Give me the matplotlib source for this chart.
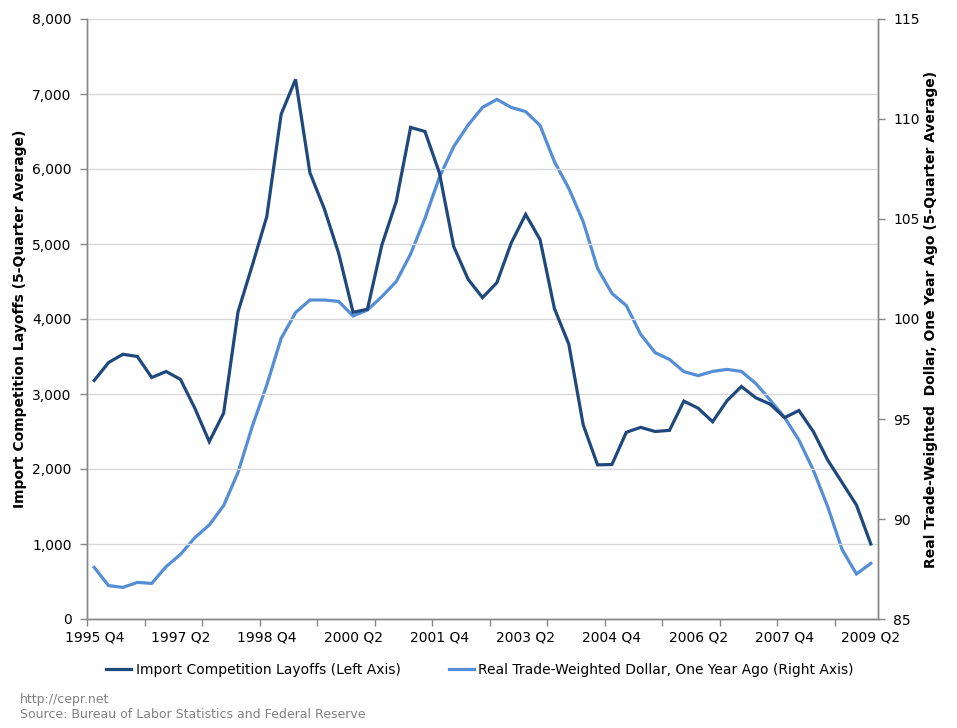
"""Import competition layoffs vs real trade-weighted dollar, 1995 Q4 - 2009 Q2
"""
import numpy as np
import matplotlib
matplotlib.use("Agg")
import matplotlib.pyplot as plt
from matplotlib.ticker import FuncFormatter, FixedLocator

# quarters 1995 Q4 .. 2009 Q2
quarters = []
for year in range(1995, 2010):
    for q in range(1, 5):
        if (year, q) >= (1995, 4) and (year, q) <= (2009, 2):
            quarters.append(f"{year} Q{q}")

layoffs = [3180, 3420, 3530, 3500, 3220, 3300, 3195, 2810, 2365, 2745,
           4095, 4720, 5365, 6730, 7195, 5950, 5470, 4875, 4090, 4130,
           4985, 5565, 6555, 6500, 5950, 4965, 4530, 4285, 4485, 5015,
           5395, 5060, 4140, 3665, 2590, 2055, 2060, 2490, 2555, 2500,
           2515, 2905, 2810, 2630, 2910, 3100, 2950, 2865, 2685, 2780,
           2500, 2120, 1820, 1520, 1000]

dollar = [87.58, 86.67, 86.58, 86.83, 86.78, 87.62, 88.23, 89.07, 89.70, 90.67,
          92.33, 94.65, 96.70, 99.03, 100.32, 100.95, 100.95, 100.88, 100.15, 100.45,
          101.12, 101.87, 103.25, 105.03, 107.08, 108.62, 109.70, 110.58, 110.98, 110.58,
          110.37, 109.68, 107.87, 106.53, 104.87, 102.53, 101.28, 100.67, 99.23, 98.32,
          97.98, 97.37, 97.17, 97.38, 97.48, 97.38, 96.78, 95.95, 95.08, 93.95,
          92.45, 90.62, 88.48, 87.25, 87.78]

label_left = "Import Competition Layoffs (Left Axis)"
label_right = "Real Trade-Weighted Dollar, One Year Ago (Right Axis)"

DARK = "#1F497D"
LIGHT = "#558ED5"
AXIS_GRAY = "#868686"
FS = 10


def main() -> None:
    plt.rcParams["font.family"] = ["DejaVu Sans"]
    fig = plt.figure(figsize=(9.57, 7.28), dpi=100)
    ax = fig.add_axes([87 / 957, 109 / 728, 791 / 957, 600 / 728])
    ax2 = ax.twinx()

    x = np.arange(len(quarters))
    line1, = ax.plot(x, layoffs, color=DARK, lw=2.3, solid_joinstyle="miter",
                     label=label_left, zorder=3)
    line2, = ax2.plot(x, dollar, color=LIGHT, lw=2.3, solid_joinstyle="miter",
                      label=label_right, zorder=2)
    ax.set_zorder(ax2.get_zorder() + 1)
    ax.patch.set_visible(False)

    ax.set_xlim(-0.5, len(quarters) - 0.5)
    ax.set_ylim(0, 8000)
    ax2.set_ylim(85, 115)

    ax.set_yticks(np.arange(0, 8001, 1000))
    ax.yaxis.set_major_formatter(FuncFormatter(lambda v, _: f"{int(v):,}"))
    ax2.set_yticks(np.arange(85, 116, 5))
    ax.grid(axis="y", color="#D9D9D9", lw=1.0)
    ax.set_axisbelow(True)

    # category ticks between quarters, labels every 6 quarters
    ax.xaxis.set_major_locator(FixedLocator(np.arange(-0.5, len(quarters), 4)))
    ax.xaxis.set_major_formatter(FuncFormatter(lambda v, _: ""))
    ax.xaxis.set_minor_locator(FixedLocator(x[::6]))
    ax.set_xticklabels([quarters[i] for i in x[::6]], minor=True)
    ax.tick_params(axis="x", which="minor", length=0, pad=8, labelsize=FS)
    ax.tick_params(axis="x", which="major", length=5, width=1, color=AXIS_GRAY)
    ax.tick_params(axis="y", length=5, width=1, color=AXIS_GRAY, labelsize=FS, pad=6)
    ax2.tick_params(axis="y", length=5, width=1, color=AXIS_GRAY, labelsize=FS, pad=6)

    for a in (ax, ax2):
        a.spines["top"].set_visible(False)
        for side in ("left", "right", "bottom"):
            a.spines[side].set_color(AXIS_GRAY)
            a.spines[side].set_linewidth(1.0)

    ax.set_ylabel("Import Competition Layoffs (5-Quarter Average)",
                  fontsize=FS, fontweight="bold", labelpad=4)
    ax2.set_ylabel("Real Trade-Weighted  Dollar, One Year Ago (5-Quarter Average)",
                   fontsize=FS, fontweight="bold", labelpad=3, rotation=90)

    fig.legend([line1, line2], [label_left, label_right], loc="center",
               bbox_to_anchor=(480 / 957, 1 - 670 / 728), ncol=2, frameon=False,
               fontsize=FS, handlelength=1.8, handletextpad=0.3, columnspacing=3.5)

    fig.text(20 / 957, 1 - 700 / 728, "http://cepr.net", fontsize=9,
             color="#808080", va="center")
    fig.text(20 / 957, 1 - 714 / 728, "Source: Bureau of Labor Statistics and Federal Reserve",
             fontsize=9, color="#808080", va="center")

    fig.savefig("out.png", dpi=100)
    plt.close(fig)


if __name__ == "__main__":
    main()
